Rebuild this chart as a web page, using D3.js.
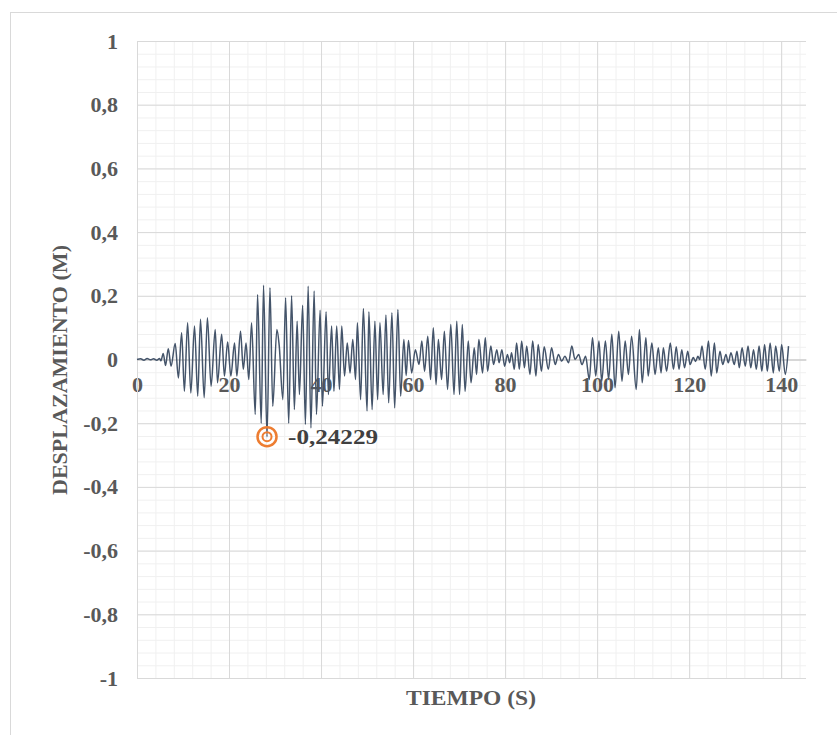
<!DOCTYPE html>
<html>
<head>
<meta charset="utf-8">
<script src="https://d3js.org/d3.v7.min.js"></script>
<style>
body { margin: 0; background: #fff; }
text { font-family: "Liberation Serif", "Times New Roman", serif; font-weight: bold; }
</style>
</head>
<body>
<svg width="837" height="735"></svg>
<script>
// picos y valles (s, m)
var tiempo = [0, 0.8, 1.5, 2.2, 2.9, 3.6, 4.3, 4.9, 5.2,
  5.7, 6.2, 6.8, 7.4, 8.3, 9.0, 9.7, 10.3, 11.0, 11.7, 12.5, 13.2, 13.8, 14.6, 15.3, 16.1, 17.0, 17.5, 18.4, 19.0, 19.7,
  20.4, 21.2, 21.7, 22.5, 23.1, 23.7, 24.3, 24.9, 25.7, 26.2, 27.0, 27.5, 28.26, 28.9, 29.5, 30.4, 30.9, 31.7, 32.3, 32.97,
  33.6, 34.2, 34.8, 35.3, 36.0, 36.6, 37.2, 37.8, 38.5, 39.0, 39.8, 40.3, 41.1, 41.6, 42.3, 42.8, 43.4, 44.0, 44.5, 45.1,
  45.7, 46.3, 46.9, 47.5, 47.9, 48.6, 49.2, 50.0, 50.4, 51.1, 51.7, 52.3, 52.8, 53.5, 54.1, 54.7, 55.4, 56.0, 56.7, 57.3,
  58.0, 58.5, 59.0, 59.7, 60.5, 61.3, 61.9, 62.5, 63.2, 63.8, 64.4, 65.0, 65.5, 66.2, 66.8, 67.5, 68.2, 68.9, 69.5, 70.1,
  70.7, 71.3, 72.0, 72.6, 73.3, 73.8, 74.3, 75.1, 75.7, 76.2, 76.9, 77.5, 78.2, 78.7, 79.3, 79.9, 80.5, 81.0, 81.4, 82.0,
  82.5, 83.1, 83.6, 84.2, 84.7, 85.4, 86.0, 86.7, 87.2, 87.9, 88.5, 89.4, 90.1, 90.9, 91.6, 92.3, 93.0, 93.8, 94.5, 95.2,
  96.0, 96.7, 97.5, 98.3, 99.0, 99.7, 100.4, 101.0, 101.8, 102.5, 103.2, 103.9, 104.7, 105.4, 106.1, 106.8, 107.5, 108.5, 109.2, 109.8,
  110.6, 111.1, 111.9, 112.6, 113.3, 113.9, 114.4, 115.1, 115.9, 116.6, 117.2, 117.8, 118.4, 119.0, 119.7, 120.2, 120.9, 121.4, 121.9, 122.3,
  122.8, 123.5, 124.2, 124.8, 125.5, 126.0, 126.7, 127.3, 128.0, 128.5, 129.1, 129.8, 130.4, 130.9, 131.5, 132.2, 132.8, 133.4, 134.0, 134.6,
  135.2, 135.8, 136.4, 137.0, 137.6, 138.3, 138.8, 139.6, 140.1, 140.9, 141.6];

var desplazamiento = [0, 0.002, -0.002, 0.003, -0.001, 0.002, -0.002, 0.003, -0.004,
  0.019, -0.019, 0.034, -0.021, 0.05, -0.058, 0.084, -0.1, 0.115, -0.105, 0.105, -0.115, 0.126, -0.12, 0.131, -0.084, 0.094, -0.073, 0.079, -0.052, 0.055,
  -0.052, 0.052, -0.052, 0.089, -0.031, 0.052, -0.063, 0.115, -0.173, 0.204, -0.2, 0.233, -0.24229, 0.225, -0.147, 0.094, 0.045, -0.126, 0.194, -0.2,
  0.2, -0.157, 0.12, -0.11, 0.17, -0.204, 0.23, -0.215, 0.215, -0.173, 0.155, -0.147, 0.15, -0.11, 0.105, -0.1, 0.105, -0.094, 0.105, -0.052,
  0.052, -0.042, 0.063, -0.063, 0.115, -0.126, 0.16, -0.162, 0.15, -0.157, 0.12, -0.126, 0.115, -0.11, 0.14, -0.136, 0.147, -0.152, 0.157, -0.115,
  0.063, -0.05, 0.06, -0.042, 0.031, -0.016, 0.058, -0.037, 0.073, -0.063, 0.1, -0.079, 0.063, -0.063, 0.089, -0.094, 0.11, -0.11, 0.12, -0.11,
  0.11, -0.1, 0.058, -0.073, 0.037, -0.047, 0.063, -0.042, 0.068, -0.037, 0.042, -0.016, 0.031, -0.01, 0.031, -0.021, 0.016, -0.01, 0.021, -0.031,
  0.052, -0.031, 0.058, -0.026, 0.042, -0.047, 0.058, -0.052, 0.047, -0.037, 0.04, -0.031, 0.037, -0.016, 0.016, -0.005, 0.01, -0.01, 0.042, 0.0,
  0.016, -0.016, 0.01, -0.063, 0.068, -0.052, 0.058, -0.068, 0.058, -0.063, 0.079, -0.089, 0.089, -0.068, 0.058, -0.047, 0.073, -0.094, 0.094, -0.073,
  0.068, -0.052, 0.052, -0.047, 0.037, -0.042, 0.037, -0.037, 0.052, -0.031, 0.04, -0.031, 0.031, -0.026, 0.026, -0.016, 0.006, -0.006, 0.01, 0.0,
  0.042, -0.031, 0.058, -0.052, 0.052, -0.042, 0.026, -0.016, 0.016, -0.01, 0.021, -0.016, 0.026, -0.026, 0.037, -0.021, 0.042, -0.026, 0.031, -0.031,
  0.042, -0.037, 0.047, -0.037, 0.052, -0.042, 0.042, -0.037, 0.047, -0.047, 0.042];

var xTicks = [0, 20, 40, 60, 80, 100, 120, 140];
var yTicks = [-1, -0.8, -0.6, -0.4, -0.2, 0, 0.2, 0.4, 0.6, 0.8, 1];
var minTiempo = 28.26, minValor = -0.24229;

var svg = d3.select("svg");
var x = d3.scaleLinear().domain([0, 145.4]).range([137, 806]);
var y = d3.scaleLinear().domain([-1, 1]).range([678, 41]);
var es = d3.formatLocale({decimal: ",", thousands: ".", grouping: [3], currency: ["", ""], minus: "-"});
var fmt = es.format("~g");

// borde del grafico
svg.append("rect")
  .attr("x", 10.5).attr("y", 12.5).attr("width", 900).attr("height", 800)
  .attr("fill", "none").attr("stroke", "#d9d9d9");

// rejilla secundaria
svg.append("g")
  .attr("transform", "translate(0," + y(-1) + ")")
  .call(d3.axisBottom(x).tickValues(d3.range(0, 145, 4)).tickSize(-(y(-1) - y(1))).tickFormat(""))
  .call(g => g.select(".domain").remove())
  .selectAll("line").attr("stroke", "#f0f0f0");
svg.append("g")
  .attr("transform", "translate(" + x(0) + ",0)")
  .call(d3.axisLeft(y).tickValues(d3.range(-50, 51, 2).map(d => d / 50)).tickSize(-(x(145.4) - x(0))).tickFormat(""))
  .call(g => g.select(".domain").remove())
  .selectAll("line").attr("stroke", "#f0f0f0");

// rejilla principal
svg.append("g")
  .attr("transform", "translate(0," + y(-1) + ")")
  .call(d3.axisBottom(x).tickValues(xTicks).tickSize(-(y(-1) - y(1))).tickFormat(""))
  .call(g => g.select(".domain").remove())
  .selectAll("line").attr("stroke", "#d9d9d9");
svg.append("g")
  .attr("transform", "translate(" + x(0) + ",0)")
  .call(d3.axisLeft(y).tickValues(yTicks).tickSize(-(x(145.4) - x(0))).tickFormat(""))
  .call(g => g.select(".domain").remove())
  .selectAll("line").attr("stroke", "#d9d9d9");

// eje x en cero
var ejeX = svg.append("g")
  .attr("transform", "translate(0," + y(0) + ")")
  .call(d3.axisBottom(x).tickValues(xTicks).tickSize(0).tickPadding(17).tickFormat(fmt));
ejeX.select(".domain").attr("stroke", "#c6c6c6");
ejeX.selectAll("text").attr("fill", "#595959").style("font-size", "22px")
  .style("font-family", "'Liberation Serif', serif").style("font-weight", "bold");

var ejeY = svg.append("g")
  .attr("transform", "translate(" + x(0) + ",0)")
  .call(d3.axisLeft(y).tickValues(yTicks).tickSize(0).tickPadding(19).tickFormat(fmt));
ejeY.select(".domain").attr("stroke", "#d9d9d9");
ejeY.selectAll("text").attr("fill", "#595959").style("font-size", "22px")
  .style("font-family", "'Liberation Serif', serif").style("font-weight", "bold");

// serie
var datos = tiempo.map((t, i) => [t, desplazamiento[i]]);
var linea = d3.line().x(d => x(d[0])).y(d => y(d[1])).curve(d3.curveMonotoneX);
svg.append("path")
  .datum(datos)
  .attr("d", linea)
  .attr("fill", "none")
  .attr("stroke", "#44546a")
  .attr("stroke-width", 1.5);

// punto minimo
svg.append("circle").attr("cx", x(minTiempo)).attr("cy", y(minValor)).attr("r", 9.5)
  .attr("fill", "none").attr("stroke", "#ed7d31").attr("stroke-width", 2.5);
svg.append("circle").attr("cx", x(minTiempo)).attr("cy", y(minValor)).attr("r", 4.5)
  .attr("fill", "none").attr("stroke", "#ed7d31").attr("stroke-width", 2);
svg.append("text")
  .attr("x", x(minTiempo) + 21).attr("y", y(minValor) + 7.5)
  .attr("fill", "#404040").style("font-size", "22px")
  .attr("textLength", 90).attr("lengthAdjust", "spacingAndGlyphs")
  .text(es.format(".5f")(minValor));

// titulos de ejes
svg.append("text")
  .attr("transform", "translate(67,370) rotate(-90)")
  .attr("text-anchor", "middle").attr("fill", "#595959").style("font-size", "22px")
  .attr("textLength", 250).attr("lengthAdjust", "spacingAndGlyphs")
  .text("DESPLAZAMIENTO (M)");
svg.append("text")
  .attr("x", 471).attr("y", 705)
  .attr("text-anchor", "middle").attr("fill", "#595959").style("font-size", "22px")
  .attr("textLength", 130).attr("lengthAdjust", "spacingAndGlyphs")
  .text("TIEMPO (S)");
</script>
</body>
</html>
